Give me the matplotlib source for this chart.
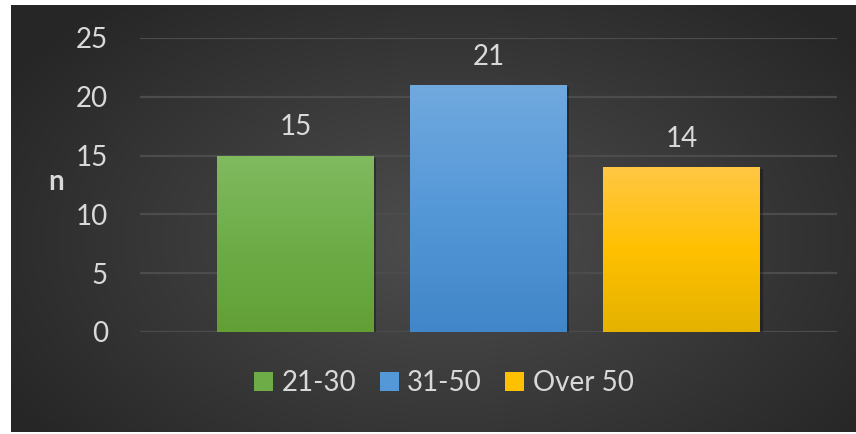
import numpy as np
import matplotlib
matplotlib.use("Agg")
import matplotlib.pyplot as plt
import matplotlib.patheffects as pe
from matplotlib.colors import LinearSegmentedColormap
from matplotlib.patches import Patch

# data
groups = ["21-30", "31-50", "Over 50"]
counts = [15, 21, 14]
y_ticks = [0, 5, 10, 15, 20, 25]

# gradient colours per bar (top, middle, bottom)
bar_grads = [
    ["#80bb60", "#6eac48", "#62a036"],
    ["#70a9de", "#5598d8", "#4186c8"],
    ["#ffc745", "#ffc000", "#e4b200"],
]
legend_cols = ["#6eac48", "#5598d8", "#ffc000"]
text_col = "#d9d9d9"

plt.rcParams["font.family"] = ["Lato", "DejaVu Sans"]

fig = plt.figure(figsize=(8.56, 4.34), dpi=100)
fig.patch.set_facecolor("white")

# dark panel with radial gradient
bg = fig.add_axes([11 / 856, 2 / 434, 845 / 856, 427 / 434], zorder=-5)
yy, xx = np.mgrid[0:1:300j, 0:1:600j]
r = np.sqrt(((xx - 0.52) / 0.62) ** 2 + ((yy - 0.55) / 0.75) ** 2)
r = np.clip(r, 0, 1)
bg_cmap = LinearSegmentedColormap.from_list("bg", ["#4e4e4e", "#3a3a3a", "#262626"])
bg.imshow(r, cmap=bg_cmap, aspect="auto", extent=[0, 1, 0, 1], vmin=0, vmax=1)
bg.set_axis_off()

ax = fig.add_axes([140 / 856, 1 - 332 / 434, 697 / 856, 294 / 434])
ax.set_facecolor("none")

x = np.arange(len(groups))
bars = ax.bar(x, counts, width=0.81, color="none", zorder=3)

for b, cols in zip(bars, bar_grads):
    cmap = LinearSegmentedColormap.from_list("g", cols[::-1])
    grad = np.linspace(0, 1, 256).reshape(-1, 1)
    bx, bw, bh = b.get_x(), b.get_width(), b.get_height()
    # soft shadow behind bar
    sh = ax.bar(bx + bw / 2, bh, width=bw, color="black", alpha=0.0, zorder=2)[0]
    sh.set_path_effects([pe.SimplePatchShadow(offset=(2, -1.5), alpha=0.3, shadow_rgbFace="black")])
    im = ax.imshow(grad, cmap=cmap, aspect="auto", origin="lower",
                   extent=[bx, bx + bw, 0, bh], zorder=3)
    im.set_clip_path(b)

ax.bar_label(bars, labels=[str(c) for c in counts], padding=11,
             color=text_col, fontsize=20)

ax.set_xlim(-0.805, 2.805)
ax.set_ylim(0, 25)
ax.set_yticks(y_ticks)
ax.set_xticks([])
ax.tick_params(axis="y", length=0, pad=23, labelsize=20, labelcolor=text_col)
ax.grid(axis="y", color="#4c4c4c", linewidth=1.6, zorder=0)
ax.set_axisbelow(True)
for s in ax.spines.values():
    s.set_visible(False)

ax.set_ylabel("n", rotation=0, fontsize=20, fontweight="bold", color=text_col,
              va="center", ha="center")
ax.yaxis.set_label_coords(-0.1205, 0.51)

handles = [Patch(facecolor=c, edgecolor="none", label=g) for c, g in zip(legend_cols, groups)]
fig.legend(handles=handles, loc="center", bbox_to_anchor=(444 / 856, 1 - 383 / 434),
           ncol=3, frameon=False, fontsize=20, labelcolor=text_col,
           handlelength=0.68, handleheight=0.68, handletextpad=0.3, columnspacing=0.85)

fig.savefig("out.png", dpi=100, facecolor=fig.get_facecolor())
